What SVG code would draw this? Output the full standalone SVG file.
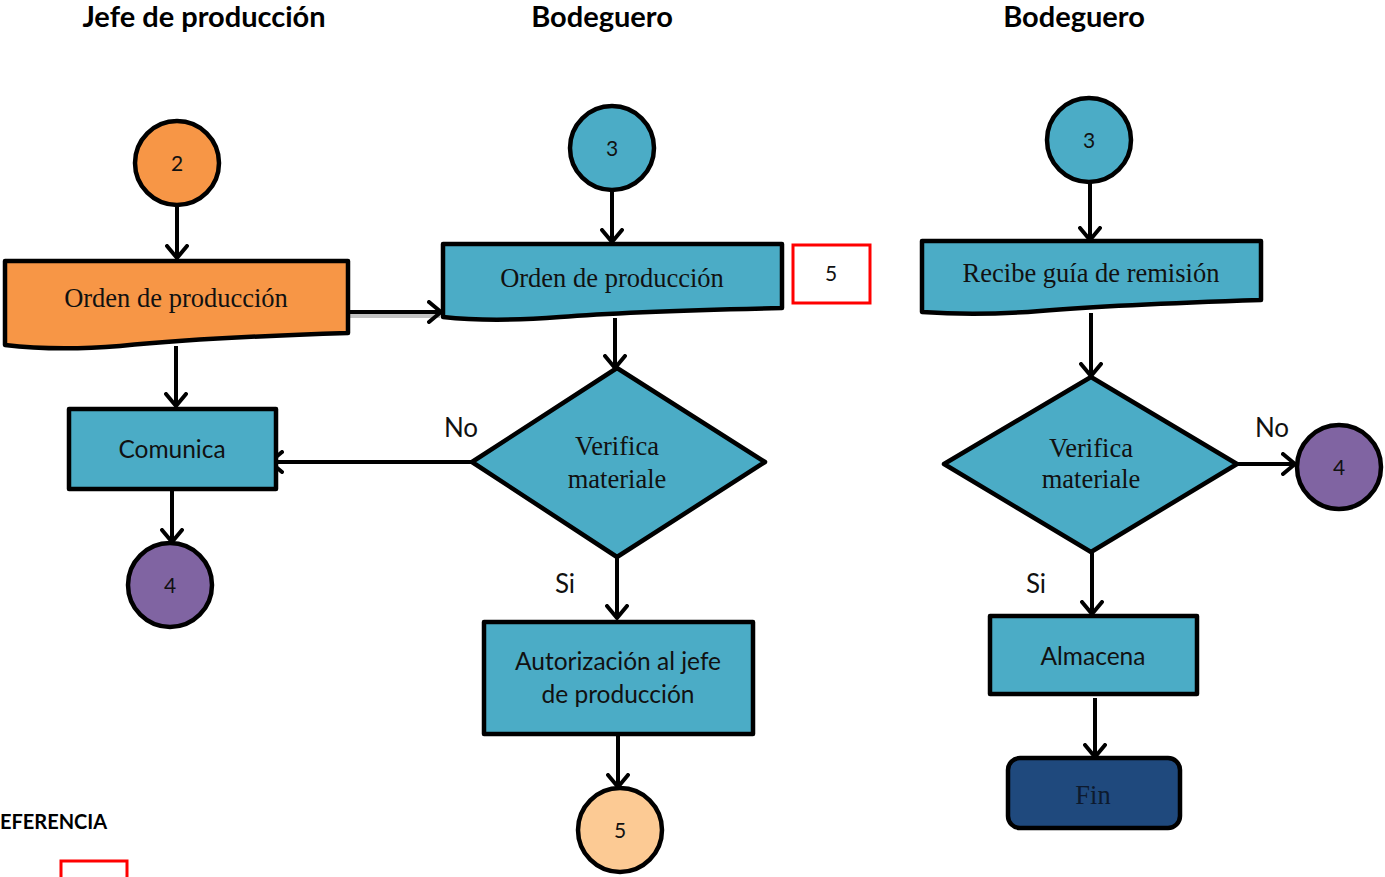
<svg xmlns="http://www.w3.org/2000/svg" width="1385" height="877" viewBox="0 0 1385 877">
<style>
.title{font-family:Lato,"Open Sans",sans-serif;font-weight:bold;font-size:29px;fill:#000;text-anchor:middle}
.serif{font-family:"Liberation Serif","Times New Roman",serif;font-size:26.5px;fill:#111;text-anchor:middle}
.sans{font-family:Lato,"Open Sans",sans-serif;font-size:24.5px;fill:#111;text-anchor:middle}
.lbl{font-family:Lato,"Open Sans",sans-serif;font-size:26px;fill:#111;text-anchor:middle}
.num{font-family:Lato,"Open Sans",sans-serif;font-size:21px;fill:#111;text-anchor:middle}
.shape{stroke:#000;stroke-width:4.5;stroke-linejoin:round}
.blue{fill:#4BACC6}
.orange{fill:#F79646}
.purple{fill:#8064A2}
.peach{fill:#FCCA94}
.navy{fill:#1F497D}
.conn{stroke:#000;stroke-width:4;fill:none}
.shadow{stroke:#9a9a9a;stroke-width:4;fill:none;opacity:0.6}
</style>
<defs>
<marker id="arr" viewBox="0 0 16 24" refX="14" refY="12" markerWidth="16" markerHeight="24" markerUnits="userSpaceOnUse" orient="auto">
<path d="M2,2 L14,12 L2,22" fill="none" stroke="#000" stroke-width="4" stroke-linecap="round" stroke-linejoin="round"/>
</marker>
</defs>
<rect width="1385" height="877" fill="#fff"/>

<g id="titles">
<text class="title" x="204" y="27">Jefe de producción</text>
<text class="title" x="602" y="27">Bodeguero</text>
<text class="title" x="1074" y="27">Bodeguero</text>
</g>

<g id="connectors">
<line class="shadow" x1="350" y1="316" x2="440" y2="316"/>
<line class="conn" x1="177" y1="205" x2="177" y2="258" marker-end="url(#arr)"/>
<line class="conn" x1="350" y1="312" x2="441" y2="312" marker-end="url(#arr)"/>
<line class="conn" x1="176" y1="346" x2="176" y2="406" marker-end="url(#arr)"/>
<line class="conn" x1="172" y1="489" x2="172" y2="542" marker-end="url(#arr)"/>
<line class="conn" x1="612" y1="190" x2="612" y2="242" marker-end="url(#arr)"/>
<line class="conn" x1="615" y1="318" x2="615" y2="368" marker-end="url(#arr)"/>
<line class="conn" x1="472" y1="462" x2="270" y2="462" marker-end="url(#arr)"/>
<line class="conn" x1="617" y1="557" x2="617" y2="618" marker-end="url(#arr)"/>
<line class="conn" x1="618" y1="735" x2="618" y2="787" marker-end="url(#arr)"/>
<line class="conn" x1="1090" y1="182" x2="1090" y2="240" marker-end="url(#arr)"/>
<line class="conn" x1="1091" y1="313" x2="1091" y2="376" marker-end="url(#arr)"/>
<line class="conn" x1="1237" y1="464" x2="1295" y2="464" marker-end="url(#arr)"/>
<line class="conn" x1="1092" y1="552" x2="1092" y2="614" marker-end="url(#arr)"/>
<line class="conn" x1="1095" y1="698" x2="1095" y2="757" marker-end="url(#arr)"/>
<text class="lbl" x="461" y="437">No</text>
<text class="lbl" x="565" y="593">Si</text>
<text class="lbl" x="1272" y="437">No</text>
<text class="lbl" x="1036" y="593">Si</text>
</g>

<g id="c2">
<circle class="shape orange" cx="177" cy="163" r="42"/>
<text class="num" x="177" y="171">2</text>
</g>

<g id="doc-jefe">
<path class="shape orange" d="M5,261 L348,261 L348,333 C250,336 180,340 120,346 C70,350 30,348 5,345 Z"/>
<text class="serif" x="176" y="307">Orden de producción</text>
</g>

<g id="comunica">
<rect class="shape blue" x="69" y="409" width="207" height="80"/>
<text class="sans" x="172" y="458">Comunica</text>
</g>

<g id="c4a">
<circle class="shape purple" cx="170" cy="585" r="42"/>
<text class="num" x="170" y="593">4</text>
</g>

<g id="c3a">
<circle class="shape blue" cx="612" cy="148" r="42"/>
<text class="num" x="612" y="156">3</text>
</g>

<g id="doc-bod1">
<path class="shape blue" d="M443,244 L782,244 L782,308 C690,310 620,312 560,317 C510,321 470,320 443,317 Z"/>
<text class="serif" x="612" y="287">Orden de producción</text>
</g>

<g id="ref5">
<rect x="793" y="245" width="77" height="58" fill="#fff" stroke="#FF0000" stroke-width="3"/>
<text class="num" x="831" y="281">5</text>
</g>

<g id="dec1">
<polygon class="shape blue" points="617,368 765,462 617,557 472,462"/>
<text class="serif" x="617" y="455">Verifica</text>
<text class="serif" x="617" y="488">materiale</text>
</g>

<g id="autorizacion">
<rect class="shape blue" x="484" y="622" width="269" height="112"/>
<text class="sans" x="618" y="670">Autorización al jefe</text>
<text class="sans" x="618" y="703">de producción</text>
</g>

<g id="c5">
<circle class="shape peach" cx="620" cy="830" r="42"/>
<text class="num" x="620" y="838">5</text>
</g>

<g id="c3b">
<circle class="shape blue" cx="1089" cy="140" r="42"/>
<text class="num" x="1089" y="148">3</text>
</g>

<g id="doc-bod2">
<path class="shape blue" d="M922,241 L1261,241 L1261,300 C1170,303 1100,306 1040,311 C990,315 950,314 922,312 Z"/>
<text class="serif" x="1091" y="282">Recibe guía de remisión</text>
</g>

<g id="dec2">
<polygon class="shape blue" points="1091,377 1237,464 1091,552 944,464"/>
<text class="serif" x="1091" y="457">Verifica</text>
<text class="serif" x="1091" y="488">materiale</text>
</g>

<g id="c4b">
<circle class="shape purple" cx="1339" cy="467" r="42"/>
<text class="num" x="1339" y="475">4</text>
</g>

<g id="almacena">
<rect class="shape blue" x="990" y="616" width="207" height="78"/>
<text class="sans" x="1093" y="665">Almacena</text>
</g>

<g id="fin">
<rect class="shape navy" x="1008" y="758" width="172" height="70" rx="12"/>
<text class="serif" x="1093" y="804" style="fill:#0d1a2e">Fin</text>
</g>

<g id="referencia">
<text x="0" y="829" style="font-family:Lato,'Open Sans',sans-serif;font-weight:bold;font-size:20px;fill:#000">EFERENCIA</text>
<rect x="61" y="861" width="66" height="30" fill="none" stroke="#FF0000" stroke-width="3"/>
</g>
</svg>
